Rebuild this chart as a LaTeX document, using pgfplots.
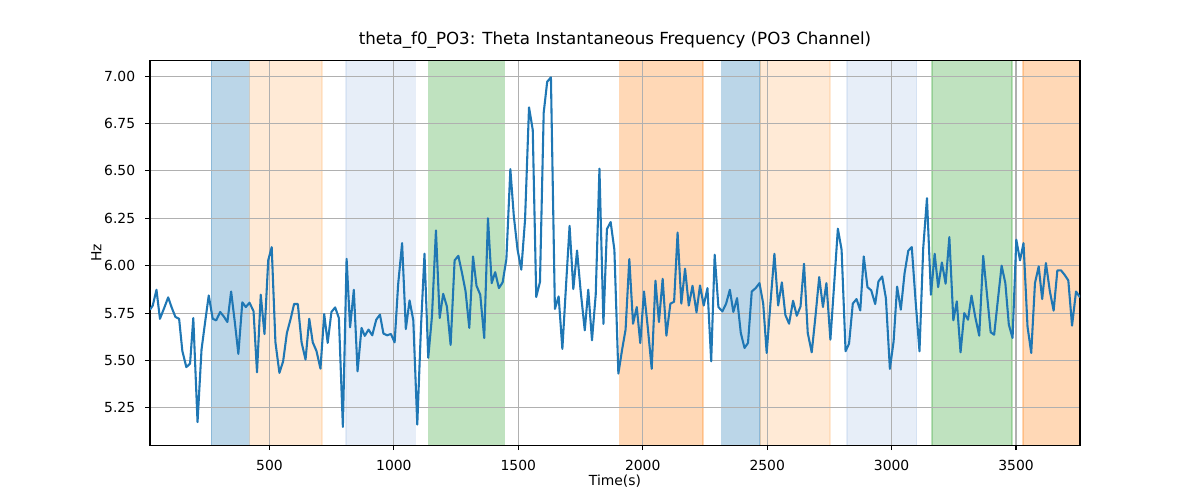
\documentclass[border=0pt]{standalone}
\usepackage{fontspec}
\setmainfont{DejaVu Sans}
\usepackage{pgfplots}
\pgfplotsset{compat=1.18}
\definecolor{c0}{HTML}{1F77B4}
\definecolor{c1}{HTML}{FF7F0E}
\definecolor{c2}{HTML}{2CA02C}
\definecolor{c0l}{HTML}{AEC7E8}
\definecolor{c1l}{HTML}{FFBB78}
\definecolor{gridc}{HTML}{B0B0B0}

\pgfplotstableread{
t v
20 5.768
31 5.790
46 5.873
60 5.720
77 5.777
93 5.833
107 5.780
122 5.730
137 5.720
150 5.550
166 5.465
181 5.484
194 5.724
211 5.175
227 5.557
241 5.698
256 5.843
272 5.720
286 5.712
302 5.756
316 5.733
331 5.703
346 5.864
361 5.700
375 5.535
391 5.807
405 5.782
420 5.805
436 5.760
450 5.438
465 5.847
480 5.640
495 6.028
509 6.098
524 5.596
540 5.435
555 5.496
570 5.645
586 5.724
599 5.798
614 5.798
629 5.596
645 5.505
660 5.720
674 5.596
689 5.550
705 5.457
720 5.745
734 5.593
749 5.756
764 5.780
779 5.724
795 5.150
810 6.036
824 5.675
839 5.873
854 5.443
870 5.672
883 5.630
898 5.663
913 5.633
929 5.715
944 5.742
958 5.642
973 5.633
988 5.640
1003 5.596
1017 5.900
1033 6.119
1048 5.666
1063 5.817
1078 5.712
1094 5.162
1109 5.680
1123 6.063
1138 5.514
1153 5.733
1169 6.186
1184 5.724
1198 5.852
1213 5.785
1228 5.582
1244 6.028
1259 6.052
1274 5.960
1288 5.865
1303 5.672
1318 6.049
1332 5.894
1347 5.847
1363 5.619
1378 6.250
1393 5.908
1407 5.966
1422 5.882
1437 5.912
1452 6.035
1468 6.509
1482 6.260
1497 6.084
1512 5.979
1527 6.242
1543 6.835
1558 6.716
1572 5.835
1587 5.914
1602 6.807
1616 6.970
1631 6.993
1647 5.772
1662 5.838
1677 5.561
1691 5.880
1706 6.210
1721 5.877
1736 6.080
1750 5.873
1767 5.659
1781 5.873
1796 5.607
1811 5.847
1826 6.512
1842 5.693
1856 6.193
1871 6.230
1886 6.084
1902 5.431
1917 5.557
1931 5.663
1946 6.035
1961 5.694
1976 5.782
1990 5.592
2005 5.864
2020 5.677
2036 5.456
2051 5.921
2065 5.703
2080 5.931
2095 5.631
2111 5.800
2126 5.810
2140 6.175
2155 5.800
2170 5.984
2185 5.790
2200 5.894
2216 5.754
2230 5.896
2245 5.790
2260 5.882
2275 5.496
2289 6.058
2304 5.782
2320 5.759
2335 5.800
2350 5.873
2364 5.756
2379 5.829
2394 5.645
2409 5.566
2423 5.593
2438 5.864
2454 5.882
2469 5.908
2484 5.800
2498 5.540
2513 5.800
2529 6.063
2544 5.790
2559 5.912
2573 5.740
2588 5.694
2604 5.815
2619 5.736
2634 5.785
2648 6.010
2663 5.645
2679 5.543
2694 5.733
2709 5.940
2724 5.782
2738 5.908
2754 5.610
2769 5.900
2784 6.195
2799 6.084
2815 5.549
2829 5.589
2844 5.800
2859 5.824
2874 5.764
2888 6.049
2903 5.887
2918 5.870
2934 5.798
2947 5.917
2962 5.943
2977 5.829
2993 5.456
3008 5.601
3022 5.890
3037 5.768
3052 5.960
3067 6.079
3081 6.098
3096 5.820
3112 5.549
3127 6.093
3142 6.356
3158 5.847
3173 6.063
3187 5.887
3202 6.017
3217 5.905
3232 6.151
3248 5.712
3262 5.812
3277 5.543
3292 5.750
3307 5.715
3321 5.842
3336 5.730
3352 5.631
3368 6.052
3383 5.852
3398 5.649
3412 5.636
3427 5.820
3442 6.000
3457 5.908
3471 5.689
3486 5.619
3501 6.137
3516 6.028
3530 6.119
3546 5.680
3561 5.540
3576 5.908
3591 5.996
3605 5.824
3620 6.014
3636 5.864
3651 5.763
3666 5.975
3681 5.975
3695 5.952
3710 5.922
3725 5.684
3741 5.864
3757 5.833
}\datatable

\begin{document}
\begin{tikzpicture}
\begin{axis}[
  set layers=standard,
  scale only axis,
  width=669.6pt, height=276.9pt,
  xmin=20, xmax=3757, ymin=5.053, ymax=7.081,
  xtick={500,1000,1500,2000,2500,3000,3500},
  ytick={5.25,5.5,5.75,6,6.25,6.5,6.75,7},
  /pgf/number format/assume math mode=true,
  xticklabel style={/pgf/number format/1000 sep={}, anchor=north, inner sep=0pt, yshift=-7pt},
  yticklabel style={/pgf/number format/.cd, fixed, fixed zerofill, precision=2, /tikz/.cd, anchor=east, inner sep=0pt, xshift=-7pt},
  tick label style={font=\fontsize{10}{12}\selectfont},
  grid=major,
  major grid style={gridc, line width=0.8pt},
  axis line style={line width=0.8pt},
  tick style={black, line width=0.8pt},
  major tick length=3.5pt,
  tick align=outside,
  tick pos=left,
  title={theta\_f0\_PO3: Theta Instantaneous Frequency (PO3 Channel)},
  title style={font=\fontsize{12}{14}\selectfont, at={(axis description cs:0.5,1.0217)}, anchor=base, inner sep=0pt},
  xlabel={Time(s)},
  xlabel style={font=\fontsize{10}{12}\selectfont, at={(axis description cs:0.5,-0.1058)}, anchor=base, inner sep=0pt},
  ylabel={Hz},
  ylabel style={font=\fontsize{10}{12}\selectfont, at={(axis description cs:-0.0523,0.5)}, anchor=base, inner sep=0pt},
]
\addplot[on layer=axis background, fill=c0, draw=c0, opacity=0.3, line width=1pt] coordinates {(266.8,5.053)(419.6,5.053)(419.6,7.081)(266.8,7.081)} -- cycle;
\addplot[on layer=axis background, fill=c1l, draw=c1l, opacity=0.3, line width=1pt] coordinates {(421,5.053)(711.8,5.053)(711.8,7.081)(421,7.081)} -- cycle;
\addplot[on layer=axis background, fill=c0l, draw=c0l, opacity=0.3, line width=1pt] coordinates {(806.9,5.053)(1085.7,5.053)(1085.7,7.081)(806.9,7.081)} -- cycle;
\addplot[on layer=axis background, fill=c2, draw=c2, opacity=0.3, line width=1pt] coordinates {(1139.3,5.053)(1443.6,5.053)(1443.6,7.081)(1139.3,7.081)} -- cycle;
\addplot[on layer=axis background, fill=c1, draw=c1, opacity=0.3, line width=1pt] coordinates {(1907.3,5.053)(2242.4,5.053)(2242.4,7.081)(1907.3,7.081)} -- cycle;
\addplot[on layer=axis background, fill=c0, draw=c0, opacity=0.3, line width=1pt] coordinates {(2317.4,5.053)(2471.6,5.053)(2471.6,7.081)(2317.4,7.081)} -- cycle;
\addplot[on layer=axis background, fill=c1l, draw=c1l, opacity=0.3, line width=1pt] coordinates {(2473,5.053)(2751.7,5.053)(2751.7,7.081)(2473,7.081)} -- cycle;
\addplot[on layer=axis background, fill=c0l, draw=c0l, opacity=0.3, line width=1pt] coordinates {(2821.4,5.053)(3100.2,5.053)(3100.2,7.081)(2821.4,7.081)} -- cycle;
\addplot[on layer=axis background, fill=c2, draw=c2, opacity=0.3, line width=1pt] coordinates {(3161.9,5.053)(3484,5.053)(3484,7.081)(3161.9,7.081)} -- cycle;
\addplot[on layer=axis background, fill=c1, draw=c1, opacity=0.3, line width=1pt] coordinates {(3527.7,5.053)(3757,5.053)(3757,7.081)(3527.7,7.081)} -- cycle;
\addplot[c0, line width=1.5pt, line join=round, mark=none] table[x=t, y=v] {\datatable};
\end{axis}
\pgfresetboundingbox
\path ([xshift=-108pt,yshift=-39.4pt]current axis.south west) rectangle ([xshift=86.4pt,yshift=43.7pt]current axis.north east);
\end{tikzpicture}
\end{document}
